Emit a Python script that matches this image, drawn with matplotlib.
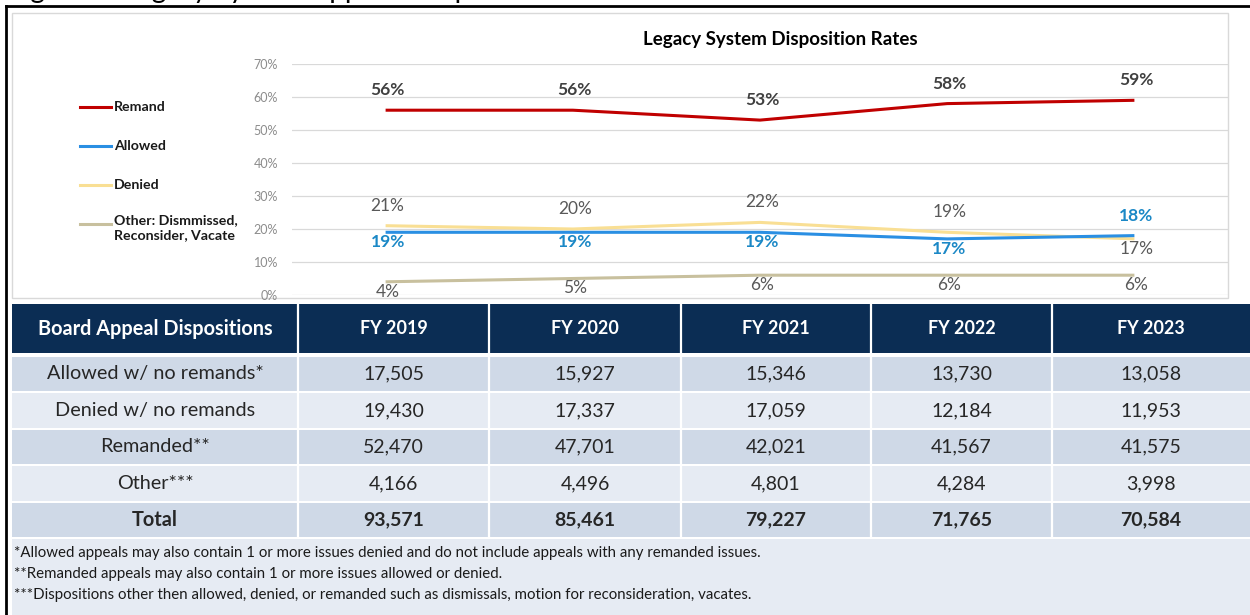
import matplotlib
matplotlib.use('Agg')
import matplotlib.pyplot as plt
from matplotlib.patches import Rectangle
from matplotlib.lines import Line2D

plt.rcParams['font.family'] = ['Lato', 'DejaVu Sans']

# chart data
years = ['FY 2019', 'FY 2020', 'FY 2021', 'FY 2022', 'FY 2023']
remand = [0.56, 0.56, 0.53, 0.58, 0.59]
allowed = [0.19, 0.19, 0.19, 0.17, 0.18]
denied = [0.21, 0.20, 0.22, 0.19, 0.17]
other = [0.04, 0.05, 0.06, 0.06, 0.06]

# table data
row_labels = ['Allowed w/ no remands*', 'Denied w/ no remands', 'Remanded**', 'Other***', 'Total']
allowed_n = [17505, 15927, 15346, 13730, 13058]
denied_n = [19430, 17337, 17059, 12184, 11953]
remanded_n = [52470, 47701, 42021, 41567, 41575]
other_n = [4166, 4496, 4801, 4284, 3998]
total_n = [93571, 85461, 79227, 71765, 70584]

footnotes = [
    '*Allowed appeals may also contain 1 or more issues denied and do not include appeals with any remanded issues.',
    '**Remanded appeals may also contain 1 or more issues allowed or denied.',
    '***Dispositions other then allowed, denied, or remanded such as dismissals, motion for reconsideration, vacates.',
]

W, H = 1250, 615
fig = plt.figure(figsize=(W / 100, H / 100), dpi=100)
fig.patch.set_facecolor('white')

# background axes in pixel coordinates
bg = fig.add_axes([0, 0, 1, 1])
bg.set_xlim(0, W)
bg.set_ylim(H, 0)
bg.axis('off')

# caption, cut off at the top like in the source
fig.text(8 / W, 1 + 2 / H, 'Figure 8: Legacy System Appeals Dispositions', fontsize=20,
         color='black', va='baseline', ha='left')

# black frame
bg.add_line(Line2D([6, 6], [6, H], color='black', lw=2))
bg.add_line(Line2D([6, W], [6, 6], color='black', lw=2))
# chart area box
bg.add_patch(Rectangle((12, 13), 1216, 285, facecolor='white', edgecolor='#d9d9d9', lw=1))

bg.text(780, 39, 'Legacy System Disposition Rates', fontsize=13.5, fontweight='bold',
        color='black', ha='center', va='center')

# line chart
x0, x1, ytop, ybot = 292, 1228, 64, 295
ax = fig.add_axes([x0 / W, (H - ybot) / H, (x1 - x0) / W, (ybot - ytop) / H])
ax.set_facecolor('none')
xs = range(len(years))
series = [
    ('Remand', remand, '#c00000'),
    ('Allowed', allowed, '#2a8fe3'),
    ('Denied', denied, '#f9df94'),
    ('Other: Dismmissed,\nReconsider, Vacate', other, '#c8c09e'),
]
for name, vals, col in [series[3], series[2], series[1], series[0]]:
    ax.plot(xs, vals, color=col, lw=2.2, solid_capstyle='butt')

ax.set_xlim(-0.5, 4.5)
ax.set_ylim(0, 0.70)
ax.set_yticks([i / 10 for i in range(8)])
ax.set_yticklabels(['%d%%' % (i * 10) for i in range(8)])
ax.tick_params(axis='y', length=0, pad=10, labelsize=9, labelcolor='#8c8c8c')
ax.set_xticks([])
ax.grid(axis='y', color='#d9d9d9', lw=0.9)
ax.set_axisbelow(True)
for s in ax.spines.values():
    s.set_visible(False)

allowed_pos = [-1, -1, -1, -1, 1]
denied_pos = [1, 1, 1, 1, -1]


def label(vals, where, color, weight):
    for i, v in enumerate(vals):
        off = 20 if where[i] > 0 else -10
        ax.annotate('%d%%' % round(v * 100), (i, v), xytext=(2, off), textcoords='offset pixels',
                    ha='center', va='center', fontsize=12.5, color=color, fontweight=weight,
                    annotation_clip=False)


label(remand, [1] * 5, '#404040', 'bold')
label(denied, denied_pos, '#595959', 'normal')
label(allowed, allowed_pos, '#1b88c6', 'bold')
label(other, [-1] * 5, '#595959', 'normal')

# legend drawn by hand
leg_y = [107, 146, 185, 224]
for (name, vals, col), y in zip(series, leg_y):
    bg.add_line(Line2D([80, 111], [y, y], color=col, lw=2.2))
    if '\n' in name:
        bg.text(114, y - 10, name, fontsize=10.2, fontweight='bold', color='#1a1a1a',
                ha='left', va='top', linespacing=1.3)
    else:
        bg.text(114, y, name, fontsize=10.2, fontweight='bold', color='#1a1a1a',
                ha='left', va='center')

# table
col_edges = [12, 298, 489, 681, 871, 1052, W]
row_edges = [(357, 391), (393, 428), (430, 464), (466, 501), (503, 537)]
navy = '#0b2d54'
dark = '#cfd9e7'
light = '#e6ebf3'

bg.add_patch(Rectangle((12, 304), W - 12, 49, facecolor=navy, edgecolor='none'))
header = ['Board Appeal Dispositions'] + years
for j, txt in enumerate(header):
    cx = (col_edges[j] + col_edges[j + 1]) / 2
    if j == len(header) - 1:
        cx = 1151
    fs = 14.3 if j == 0 else 12.9
    bg.text(cx, 329, txt, color='white', fontsize=fs, fontweight='bold', ha='center', va='center')

table_rows = [allowed_n, denied_n, remanded_n, other_n, total_n]
for i, (lab, vals) in enumerate(zip(row_labels, table_rows)):
    y0, y1 = row_edges[i]
    bg.add_patch(Rectangle((12, y0), W - 12, y1 - y0, facecolor=dark if i % 2 == 0 else light,
                           edgecolor='none'))
    cy = (y0 + y1) / 2
    bold = 'bold' if lab == 'Total' else 'normal'
    bg.text(155, cy, lab, fontsize=14.3, color='#262626', ha='center', va='center', fontweight=bold)
    for j, v in enumerate(vals):
        cx = (col_edges[j + 1] + col_edges[j + 2]) / 2
        if j == len(vals) - 1:
            cx = 1151
        bg.text(cx, cy, '{:,}'.format(v), fontsize=14, color='#262626', ha='center', va='center',
                fontweight=bold)

# column separators
for xe in col_edges[1:-1]:
    bg.add_line(Line2D([xe, xe], [304, 537], color='white', lw=1.6))

# footnote block
bg.add_patch(Rectangle((12, 539), W - 12, H - 539, facecolor=light, edgecolor='none'))
for k, t in enumerate(footnotes):
    bg.text(14, 553 + 21 * k, t, fontsize=10.8, color='#1a1a1a', ha='left', va='center')

fig.savefig('out.png', dpi=100, facecolor='white')
